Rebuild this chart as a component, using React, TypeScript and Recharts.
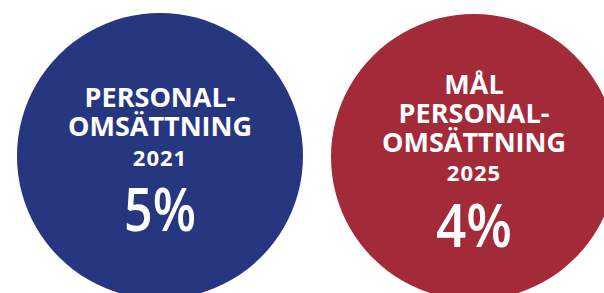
import React from "react";
import { PieChart, Pie, Cell } from "recharts";

const categories = ["Personalomsättning 2021", "Mål personalomsättning 2025"];
const titleLines = [
  ["PERSONAL-", "OMSÄTTNING"],
  ["MÅL", "PERSONAL-", "OMSÄTTNING"],
];
const years = ["2021", "2025"];
const values = [5, 4];
const colors = ["#263780", "#A32A39"];

const FONT = "'Open Sans', 'Noto Sans', sans-serif";
const PCT_WIDTHS = [72, 76];

function makeLabel(idx: number) {
  return (props: any) => {
    const { cx, cy } = props;
    const lines = titleLines[idx];
    const first = cy - 49 - 14.5 * (lines.length - 2);
    const last = first + 29 * (lines.length - 1);
    const yearY = last + 29.5;
    const pctY = yearY + 65.5;
    return (
      <g>
        {lines.map((t, i) => (
          <text
            key={i}
            x={cx}
            y={first + 29 * i}
            textAnchor="middle"
            fill="#ffffff"
            fontFamily={FONT}
            fontWeight={700}
            fontSize={27}
          >
            {t}
          </text>
        ))}
        <text
          x={cx}
          y={yearY}
          textAnchor="middle"
          fill="#ffffff"
          fontFamily={FONT}
          fontWeight={700}
          fontSize={22}
          letterSpacing={1}
        >
          {years[idx]}
        </text>
        <text
          x={cx}
          y={pctY}
          textAnchor="middle"
          fill="#ffffff"
          fontFamily={FONT}
          fontWeight={600}
          fontSize={60}
          textLength={PCT_WIDTHS[idx]}
          lengthAdjust="spacingAndGlyphs"
        >
          {values[idx] + "%"}
        </text>
      </g>
    );
  };
}

export default function App() {
  const datasets = categories.map((c, i) => [{ name: c, value: values[i] }]);
  const centers = [
    { cx: 160, cy: 156 },
    { cx: 474, cy: 157 },
  ];
  return (
    <div style={{ position: "absolute", left: 0, top: 0, width: 604, height: 293, background: "#ffffff" }}>
      <PieChart width={604} height={293} margin={{ top: 0, right: 0, bottom: 0, left: 0 }}>
        {datasets.map((d, i) => (
          <Pie
            key={i}
            data={d}
            dataKey="value"
            nameKey="name"
            cx={centers[i].cx}
            cy={centers[i].cy}
            innerRadius={0}
            outerRadius={143}
            startAngle={90}
            endAngle={-270}
            stroke="none"
            isAnimationActive={false}
            labelLine={false}
            label={makeLabel(i)}
          >
            <Cell fill={colors[i]} />
          </Pie>
        ))}
      </PieChart>
    </div>
  );
}
